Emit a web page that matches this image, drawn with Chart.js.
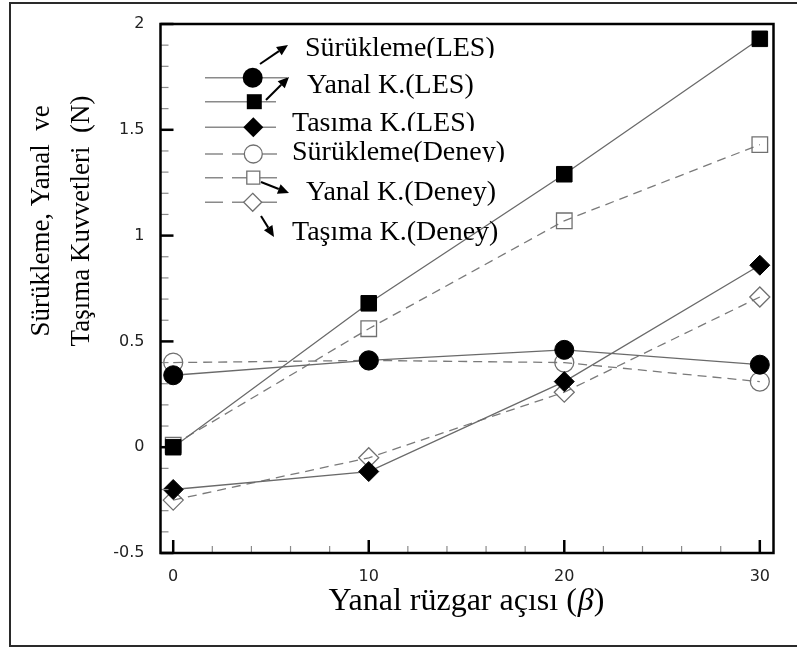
<!DOCTYPE html>
<html><head><meta charset="utf-8">
<script src="https://cdn.jsdelivr.net/npm/chart.js@4.4.0/dist/chart.umd.min.js"></script>
<style>html,body{margin:0;padding:0;background:#fff;overflow:hidden}canvas{display:block}</style>
</head><body>
<canvas id="c" width="797" height="648"></canvas>
<script>
// ---- data ----
const angles = [0, 10, 20, 30];
const suruklemeLES   = [0.34, 0.41, 0.46, 0.39];
const yanalLES       = [0.00, 0.68, 1.29, 1.93];
const tasimaLES      = [-0.20, -0.115, 0.31, 0.86];
const suruklemeDeney = [0.40, 0.41, 0.40, 0.31];
const yanalDeney     = [0.01, 0.56, 1.07, 1.43];
const tasimaDeney    = [-0.25, -0.05, 0.26, 0.71];
const seriesNames = ['Sürükleme(LES)', 'Yanal K.(LES)', 'Taşıma K.(LES)',
                     'Sürükleme(Deney)', 'Yanal K.(Deney)', 'Taşıma K.(Deney)'];
const xTickValues = [0, 10, 20, 30];
const yTickValues = [-0.5, 0, 0.5, 1, 1.5, 2];
const xTitleParts = ['Yanal rüzgar açısı (', 'β', ')'];
const yTitleLines = ['Sürükleme, Yanal  ve', 'Taşıma Kuvvetleri  (N)'];

function pts(vals) { return angles.map((a, i) => ({ x: a, y: vals[i] })); }

const LINE_SOLID = '#6a6a6a', LINE_DASH = '#7a7a7a', OPEN = '#707070';
const DASH = [9, 6];

function ds(label, vals, shape, radius, open) {
  return {
    label, data: pts(vals),
    borderColor: open ? LINE_DASH : LINE_SOLID,
    borderWidth: 1.3,
    borderDash: open ? DASH : [],
    pointStyle: shape, pointRadius: radius,
    pointBackgroundColor: open ? 'rgba(255,255,255,0)' : '#000',
    pointBorderColor: open ? OPEN : '#000',
    pointBorderWidth: open ? 1.3 : 1,
    fill: false, tension: 0
  };
}

const datasets = [
  ds(seriesNames[0], suruklemeLES, 'circle', 9.5, false),
  ds(seriesNames[1], yanalLES, 'rect', 11, false),
  ds(seriesNames[2], tasimaLES, 'rectRot', 10, false),
  ds(seriesNames[3], suruklemeDeney, 'circle', 9.5, true),
  ds(seriesNames[4], yanalDeney, 'rect', 11, true),
  ds(seriesNames[5], tasimaDeney, 'rectRot', 10, true)
];

function drawMarker(ctx, shape, x, y, r, open) {
  ctx.save();
  ctx.beginPath();
  if (shape === 'circle') ctx.arc(x, y, r, 0, Math.PI * 2);
  else if (shape === 'rect') ctx.rect(x - r, y - r, 2 * r, 2 * r);
  else { ctx.moveTo(x, y - r); ctx.lineTo(x + r, y); ctx.lineTo(x, y + r); ctx.lineTo(x - r, y); ctx.closePath(); }
  if (open) { ctx.fillStyle = '#fff'; ctx.fill(); ctx.strokeStyle = OPEN; ctx.lineWidth = 1.3; ctx.stroke(); }
  else { ctx.fillStyle = '#000'; ctx.fill(); }
  ctx.restore();
}

function arrow(ctx, x1, y1, x2, y2) {
  const a = Math.atan2(y2 - y1, x2 - x1), L = 11, W = 5;
  const bx = x2 - L * Math.cos(a), by = y2 - L * Math.sin(a);
  ctx.save();
  ctx.strokeStyle = '#000'; ctx.fillStyle = '#000'; ctx.lineWidth = 2;
  ctx.beginPath(); ctx.moveTo(x1, y1); ctx.lineTo(bx, by); ctx.stroke();
  ctx.beginPath();
  ctx.moveTo(x2, y2);
  ctx.lineTo(bx + W * Math.sin(a), by - W * Math.cos(a));
  ctx.lineTo(bx - W * Math.sin(a), by + W * Math.cos(a));
  ctx.closePath(); ctx.fill();
  ctx.restore();
}

const deco = {
  id: 'deco',
  afterDatasetsDraw(chart) {
    const ctx = chart.ctx, a = chart.chartArea, xs = chart.scales.x, ys = chart.scales.y;
    ctx.save();
    for (let k = 0; k <= 30; k += 2) {
      const px = xs.getPixelForValue(k);
      const major = k % 10 === 0;
      ctx.beginPath();
      ctx.strokeStyle = major ? '#000' : '#8a8a8a';
      ctx.lineWidth = major ? 2.5 : 1.2;
      ctx.moveTo(px, a.bottom); ctx.lineTo(px, a.bottom - (major ? 13 : 7));
      ctx.stroke();
    }
    for (let k = -5; k <= 20; k++) {
      const py = ys.getPixelForValue(k / 10);
      const major = k % 5 === 0;
      ctx.beginPath();
      ctx.strokeStyle = major ? '#000' : '#8a8a8a';
      ctx.lineWidth = major ? 2.5 : 1.2;
      ctx.moveTo(a.left, py); ctx.lineTo(a.left + (major ? 13 : 8), py);
      ctx.stroke();
    }
    ctx.strokeStyle = '#000'; ctx.lineWidth = 2.5;
    ctx.strokeRect(a.left, a.top, a.right - a.left, a.bottom - a.top);
    ctx.restore();
  },
  afterDraw(chart) {
    const ctx = chart.ctx;
    ctx.save();
    ctx.strokeStyle = '#2a2a2a'; ctx.lineWidth = 2;
    ctx.beginPath();
    ctx.moveTo(797, 3); ctx.lineTo(10, 3); ctx.lineTo(10, 646); ctx.lineTo(797, 646);
    ctx.stroke();

    ctx.fillStyle = '#000';
    ctx.textBaseline = 'alphabetic';
    const fN = '32px "Liberation Serif"', fI = 'italic 32px "Liberation Serif"';
    const fonts = [fN, fI, fN];
    let w = 0; const ws = [];
    xTitleParts.forEach((p, i) => { ctx.font = fonts[i]; const m = ctx.measureText(p).width; ws.push(m); w += m; });
    let x = 466 - w / 2;
    xTitleParts.forEach((p, i) => { ctx.font = fonts[i]; ctx.textAlign = 'left'; ctx.fillText(p, x, 610); x += ws[i] + (i === 0 ? 1 : 0); });

    ctx.font = '27px "Liberation Serif"';
    ctx.textAlign = 'center'; ctx.textBaseline = 'middle';
    [41.7, 81.7].forEach((cx, i) => {
      ctx.save(); ctx.translate(cx, 221); ctx.rotate(-Math.PI / 2);
      ctx.fillText(yTitleLines[i], 0, 0); ctx.restore();
    });

    const rows = [
      { y: 77.7, x2: 287, mx: 252.7, shape: 'circle', r: 10, open: false, tx: 305, ty: 56, clip: 58 },
      { y: 101.7, x2: 276, mx: 254.3, shape: 'rect', r: 7.5, open: false, tx: 307, ty: 93, clip: null },
      { y: 127.3, x2: 276, mx: 253.3, shape: 'diamond', r: 10, open: false, tx: 292, ty: 131, clip: 131 },
      { y: 154, x2: 277, mx: 253.3, shape: 'circle', r: 9, open: true, tx: 292, ty: 160, clip: 162 },
      { y: 177.7, x2: 277, mx: 253.3, shape: 'rect', r: 6.5, open: true, tx: 306, ty: 200, clip: null },
      { y: 202.3, x2: 277, mx: 252.7, shape: 'diamond', r: 9, open: true, tx: 292, ty: 240, clip: null }
    ];
    rows.forEach((r, i) => {
      ctx.save();
      ctx.strokeStyle = '#8a8a8a'; ctx.lineWidth = 1.5;
      ctx.setLineDash(r.open ? [18, 9] : []);
      ctx.beginPath(); ctx.moveTo(205, r.y); ctx.lineTo(r.x2, r.y); ctx.stroke();
      ctx.restore();
      drawMarker(ctx, r.shape, r.mx, r.y, r.r, r.open);
      ctx.save();
      if (r.clip) { ctx.beginPath(); ctx.rect(r.tx - 5, 0, 300, r.clip); ctx.clip(); }
      ctx.font = '28px "Liberation Serif"'; ctx.fillStyle = '#000';
      ctx.textAlign = 'left'; ctx.textBaseline = 'alphabetic';
      ctx.fillText(seriesNames[i], r.tx, r.ty);
      ctx.restore();
    });
    arrow(ctx, 260, 64, 288, 45);
    arrow(ctx, 266, 100, 289, 77);
    arrow(ctx, 261, 182, 289, 193);
    arrow(ctx, 261, 216, 274, 237);
    ctx.restore();
  }
};

new Chart(document.getElementById('c'), {
  type: 'line',
  data: { datasets },
  options: {
    responsive: false, animation: false, devicePixelRatio: 1,
    layout: { padding: { top: 24, right: 23.5, left: 0, bottom: 0 } },
    plugins: { legend: { display: false }, tooltip: { enabled: false } },
    scales: {
      x: {
        type: 'linear', min: -0.65, max: 30.7,
        grid: { display: false }, border: { display: false },
        afterBuildTicks: s => { s.ticks = xTickValues.map(v => ({ value: v })); },
        afterFit: s => { s.height = 95; },
        ticks: { font: { family: 'DejaVu Sans', size: 16 }, color: '#222', padding: 6,
                 maxRotation: 0, autoSkip: false, callback: v => String(v) }
      },
      y: {
        type: 'linear', min: -0.5, max: 2,
        grid: { display: false }, border: { display: false },
        afterBuildTicks: s => { s.ticks = yTickValues.map(v => ({ value: v })); },
        afterFit: s => { s.width = 160.5; },
        ticks: { font: { family: 'DejaVu Sans', size: 16 }, color: '#222', padding: 8,
                 autoSkip: false, callback: v => String(v) }
      }
    }
  },
  plugins: [deco]
});
</script>
</body></html>
